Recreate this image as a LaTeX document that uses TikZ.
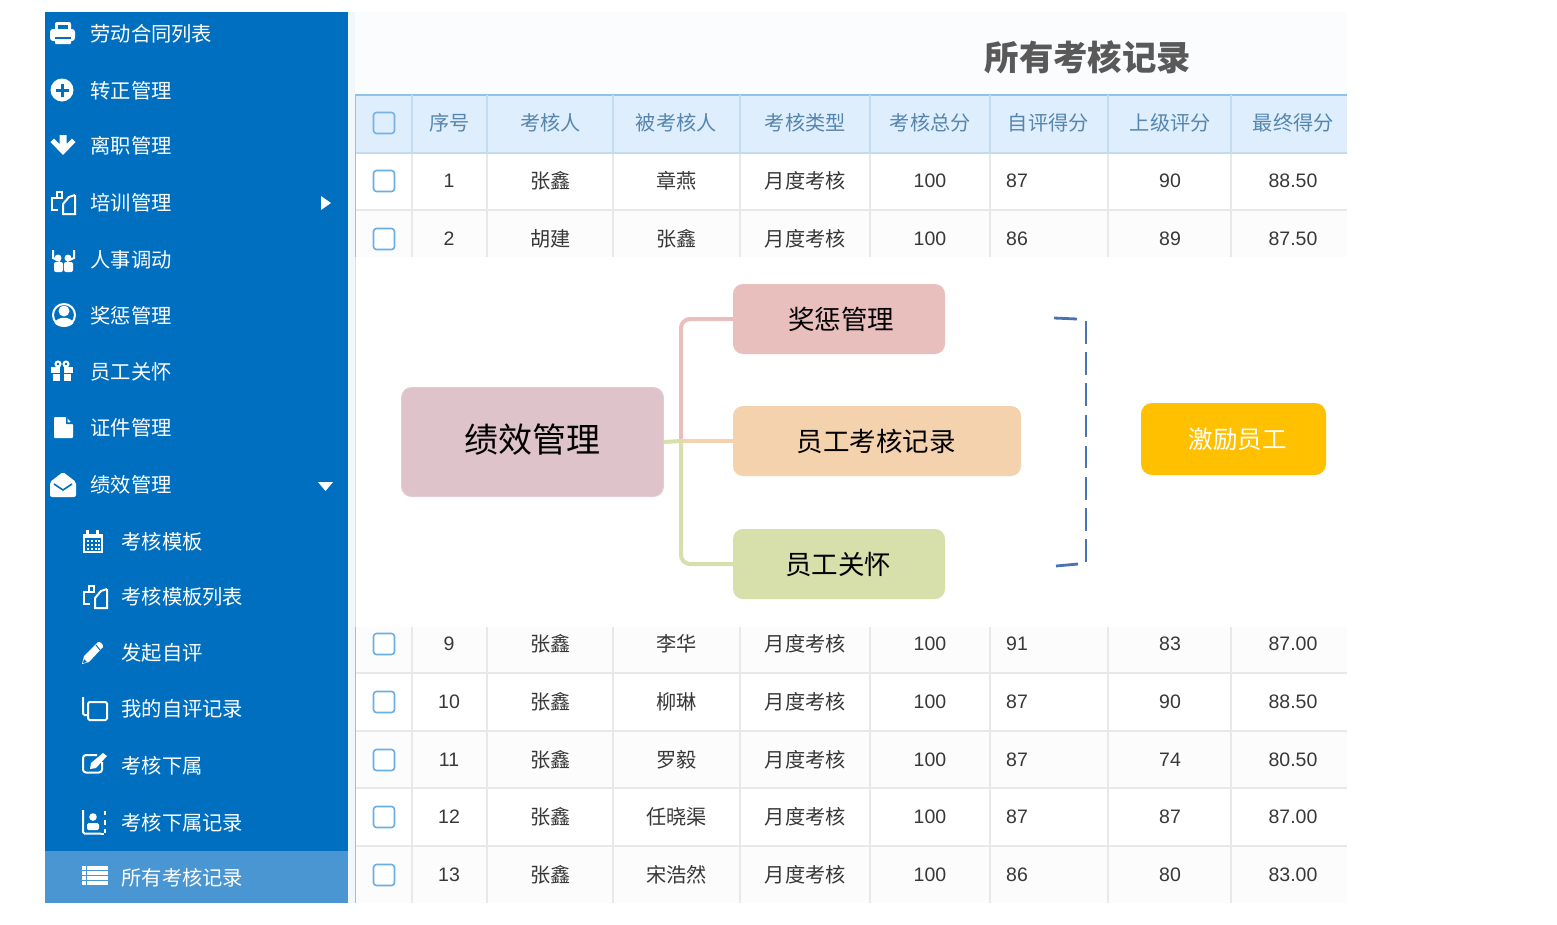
\documentclass[tikz,border=0pt]{standalone}
\usepackage{fontspec}
\setmainfont{Liberation Sans}
\newfontfamily\cjk{Noto Sans CJK SC}
\definecolor{side}{HTML}{006FC0}
\definecolor{sideact}{HTML}{4A96D2}
\definecolor{headbg}{HTML}{DEEEFC}
\definecolor{headline}{HTML}{C3DCF0}
\definecolor{topline}{HTML}{8FC3EA}
\definecolor{rowline}{HTML}{E8E8E8}
\definecolor{headtext}{HTML}{5685AE}
\definecolor{bodytext}{HTML}{383838}
\definecolor{chk}{HTML}{6AAEE6}
\definecolor{chkh}{HTML}{7AB0DD}
\definecolor{dashblue}{HTML}{4A72B0}
\definecolor{stripc}{HTML}{F2F7FC}
\definecolor{topc}{HTML}{FBFCFD}
\definecolor{midl}{HTML}{CFE3F4}
\definecolor{rowalt}{HTML}{FCFCFC}
\definecolor{titlec}{HTML}{595959}
\definecolor{rootc}{HTML}{DFC3CB}
\definecolor{rootd}{HTML}{E3CBD2}
\definecolor{pinkc}{HTML}{E8BFBD}
\definecolor{orangec}{HTML}{F4D2AE}
\definecolor{greenc}{HTML}{D7DFAA}
\definecolor{goldc}{HTML}{FFC000}
\tikzset{
  x=1pt,y=-1pt,
  menu/.style={anchor=west,inner sep=0,yshift=-0.4pt,xshift=0.2pt,text=white,font=\cjk\fontsize{20.3}{22}\selectfont},
  hcell/.style={inner sep=0,yshift=-0.2pt,xshift=0.3pt,text=headtext,font=\cjk\fontsize{20.2}{22}\selectfont},
  cell/.style={inner sep=0,yshift=-0.1pt,xshift=0.3pt,text=bodytext,font=\cjk\fontsize{20.2}{22}\selectfont},
  numcell/.style={inner sep=0,text=bodytext,font=\fontsize{19.5}{22}\selectfont},
  chkbox/.style={draw=chk,line width=1.6pt,rounded corners=3pt,fill=white,minimum size=21pt,inner sep=0},
  mapbox/.style={rounded corners=10pt,inner sep=0,text=black},
  branch/.style={line width=4pt},
  ic/.style={fill=white,draw=none},
  icl/.style={draw=white,line width=2pt,fill=none},
  bl/.style={fill=side,draw=none}
}
\newcommand{\trow}[8]{%
  \node[chkbox] (c#1) at (384,#2) {};
  \node[numcell] (n#1) at (449,#2) {#1};
  \node[cell] (a#1) at (550,#2) {#3};
  \node[cell] (b#1) at (676,#2) {#4};
  \node[cell] (t#1) at (805,#2) {月度考核};
  \node[numcell] (s#1) at (930,#2) {#5};
  \node[numcell,anchor=west] (e#1) at (1006,#2) {#6};
  \node[numcell] (u#1) at (1170,#2) {#7};
  \node[numcell] (f#1) at (1293,#2) {#8};
}
\newcommand{\copyicon}[2]{%
  \begin{scope}[shift={(#1,#2)}]
    \draw[icl] (12,-8) -- (12,11) -- (0,11) -- (0,1) -- (6,-6) -- (12,-8);
    \draw[icl] (0,-5) -- (-11,-5) -- (-11,7) -- (-5,7);
    \draw[icl] (-6,-5) -- (-6,-11) -- (-1,-11) -- (-1,-5);
  \end{scope}}
\begin{document}
\begin{tikzpicture}
\useasboundingbox (0,0) rectangle (1557,924);
\fill[white] (0,0) rectangle (1557,924);
% page strip and title zone
\fill[stripc] (347.5,12) rectangle (355,903);
\fill[topc] (355,12) rectangle (1347,95);
\node[inner sep=0,text=titlec,font=\cjk\bfseries\fontsize{34.4}{36}\selectfont] (title) at (1087.8,57.5) {所有考核记录};
% sidebar
\fill[side] (45,12) rectangle (347.5,851);
\fill[sideact] (45,851) rectangle (347.5,903);
\node[menu] (m1) at (90,33) {劳动合同列表};
\node[menu] (m2) at (90,90) {转正管理};
\node[menu] (m3) at (90,145) {离职管理};
\node[menu] (m4) at (90,202) {培训管理};
\node[menu] (m5) at (90,259) {人事调动};
\node[menu] (m6) at (90,315) {奖惩管理};
\node[menu] (m7) at (90,371) {员工关怀};
\node[menu] (m8) at (90,427) {证件管理};
\node[menu] (m9) at (90,484) {绩效管理};
\node[menu] (m10) at (121,541) {考核模板};
\node[menu] (m11) at (121,596) {考核模板列表};
\node[menu] (m12) at (121,652) {发起自评};
\node[menu] (m13) at (121,708) {我的自评记录};
\node[menu] (m14) at (121,765) {考核下属};
\node[menu] (m15) at (121,822) {考核下属记录};
\node[menu] (m16) at (121,877) {所有考核记录};
% arrows
\fill[white] (321,196) -- (331,203) -- (321,210) -- cycle;
\fill[white] (318,482) -- (333,482) -- (325.5,491) -- cycle;
% icons
\fill[ic,rounded corners=2pt] (55,22) rectangle (71,33);
\fill[bl] (58,25) rectangle (68,30);
\fill[ic,rounded corners=3pt] (50,29) rectangle (75,41);
\fill[ic,rounded corners=1pt] (55,38) rectangle (71,44);
\fill[bl] (55,36.5) rectangle (71,38.5);
\fill[ic] (62,90) circle (11.5);
\fill[bl] (60.5,83.5) rectangle (63.5,96.5);
\fill[bl] (55.5,88.5) rectangle (68.5,91.5);
\fill[ic] (59.5,135) -- (66.5,135) -- (66.5,144) -- (72,138.5) -- (75.5,142) -- (63,155) -- (50.5,142) -- (54,138.5) -- (59.5,144) -- cycle;
\copyicon{63}{203}
\draw[icl] (53,250) -- (53,258) -- (60,261);
\draw[icl] (74,250) -- (74,258) -- (67,261);
\fill[ic] (58,258) circle (3.5);
\fill[ic] (68,258) circle (3.5);
\fill[ic,rounded corners=2pt] (54,262) rectangle (63,272);
\fill[ic,rounded corners=2pt] (64,262) rectangle (73,272);
\draw[white,line width=2pt] (64,315) circle (11);
\fill[ic] (64,311) circle (5.5);
\fill[ic] (54.5,323) .. controls (57,316) and (71,316) .. (73.5,323) .. controls (70,328) and (58,328) .. (54.5,323) -- cycle;
\draw[white,line width=2pt] (58,364) circle (2.5);
\draw[white,line width=2pt] (66,364) circle (2.5);
\fill[ic] (51,367) rectangle (73,372.5);
\fill[ic] (53,374) rectangle (71,381);
\fill[bl] (60,367) rectangle (64,381);
\fill[ic,rounded corners=1pt] (54,417) -- (66,417) -- (73,424) -- (73,438) -- (54,438) -- cycle;
\fill[bl] (66,417) -- (66,424) -- (73,424) -- (72,422) -- (67.5,422.5) -- (67.5,418) -- cycle;
\fill[ic,rounded corners=2pt] (50,482) -- (63,472) -- (76,482) -- (76,497) -- (50,497) -- cycle;
\draw[side,line width=1.6pt] (54,484) -- (63,490) -- (72,484);
\fill[ic] (83,534) rectangle (103,553);
\fill[ic] (86,530) rectangle (89,536);
\fill[ic] (96,530) rectangle (99,536);
\fill[bl] (85,538) rectangle (101,551);
\foreach \xa in {86.5,90.5,94.5,98}{\foreach \ya in {539.5,543.5,547.5}{\fill[ic] (\xa,\ya) rectangle ++(2.4,2.4);}}
\copyicon{95}{597}
\fill[ic] (82,664) -- (84,656) -- (98,642) .. controls (100,641) and (104,645) .. (103,647) -- (89,662) -- cycle;
\draw[side,line width=1pt] (96,645) -- (100,650);
\fill[bl] (83,663) -- (84,659) -- (87,662) -- cycle;
\draw[icl,rounded corners=1.5pt] (83,697) -- (83,715) -- (87,715);
\draw[icl,rounded corners=1.5pt] (88,702) rectangle (107,720);
\draw[icl,rounded corners=3pt] (102,762) -- (102,772.5) -- (83,772.5) -- (83,755) -- (97,755);
\fill[ic] (90,769) -- (91,763) -- (103,753) -- (107,756) -- (96,768) -- cycle;
\draw[icl,rounded corners=1.5pt] (83,810) -- (83,833.5) -- (101,833.5);
\fill[ic] (93,817) circle (3.8);
\fill[ic,rounded corners=1.5pt] (87,830) -- (87,823) -- (99,823) -- (99,830) -- cycle;
\draw[white,line width=2pt] (104.5,811) -- (104.5,815);
\draw[white,line width=2pt] (104.5,820) -- (104.5,825);
\draw[white,line width=2pt] (104.5,829) -- (104.5,833);
\draw[white,line width=2pt] (101,833.5) -- (104,833.5);
\foreach \ya in {866,871,876,881}{\fill[ic] (82,\ya) rectangle (86,\ya+4); \fill[ic] (87,\ya) rectangle (108,\ya+4);}
% table header
\fill[headbg] (355,95) rectangle (1347,153);
\draw[topline,line width=1.5pt] (355,95) -- (1347,95);
\draw[headline,line width=1.1pt] (355,153) -- (1347,153);
\foreach \xa in {412,487,613,740,870,990,1108,1231}{\draw[headline,line width=1.1pt] (\xa,95) -- (\xa,153);}
% table rows grid
\fill[rowalt] (356,210) rectangle (1347,257);
\fill[rowalt] (356,627) rectangle (1347,673);
\fill[rowalt] (356,731) rectangle (1347,788);
\fill[rowalt] (356,846) rectangle (1347,903);
\foreach \ya in {210,673,731,788,846}{\draw[rowline,line width=1.2pt] (356,\ya) -- (1347,\ya);}
\foreach \xa in {412,487,613,740,870,990,1108,1231}{
  \draw[rowline,line width=1.2pt] (\xa,153.6) -- (\xa,257);
  \draw[rowline,line width=1.2pt] (\xa,627) -- (\xa,903);
}
\draw[topline,line width=1.6pt] (355.5,95) -- (355.5,257);
\draw[topline,line width=1.6pt] (355.5,627) -- (355.5,903);
\draw[midl,line width=1.2pt] (355.5,257) -- (355.5,627);
\node[chkbox,fill=headbg,draw=chkh] (ch) at (384,123) {};
\node[hcell] (h2) at (449,123) {序号};
\node[hcell] (h3) at (550,123) {考核人};
\node[hcell] (h4) at (676,123) {被考核人};
\node[hcell] (h5) at (805,123) {考核类型};
\node[hcell] (h6) at (930,123) {考核总分};
\node[hcell] (h7) at (1048,123) {自评得分};
\node[hcell] (h8) at (1170,123) {上级评分};
\node[hcell] (h9) at (1293,123) {最终得分};
\trow{1}{181}{张鑫}{章燕}{100}{87}{90}{88.50}
\trow{2}{239}{胡建}{张鑫}{100}{86}{89}{87.50}
\trow{9}{644}{张鑫}{李华}{100}{91}{83}{87.00}
\trow{10}{702}{张鑫}{柳琳}{100}{87}{90}{88.50}
\trow{11}{760}{张鑫}{罗毅}{100}{87}{74}{80.50}
\trow{12}{817}{张鑫}{任晓渠}{100}{87}{87}{87.00}
\trow{13}{875}{张鑫}{宋浩然}{100}{86}{80}{83.00}
% mind map
\coordinate (trunk) at (681,441);
\node[mapbox,fill=rootc,draw=rootd,line width=0.8pt,minimum width=262pt,minimum height=109pt,font=\cjk\fontsize{34}{36}\selectfont] (root) at (532.5,442) {\raisebox{8pt}{绩效管理}};
\node[mapbox,fill=pinkc,minimum width=212pt,minimum height=70pt,font=\cjk\fontsize{26.5}{28}\selectfont] (k1) at (839,319) {\raisebox{1pt}{\hspace{4pt}奖惩管理}};
\node[mapbox,fill=orangec,minimum width=288pt,minimum height=70pt,font=\cjk\fontsize{26.5}{28}\selectfont] (k2) at (877,441) {\raisebox{1pt}{\hspace{-2pt}员工考核记录}};
\node[mapbox,fill=greenc,minimum width=212pt,minimum height=70pt,font=\cjk\fontsize{26.5}{28}\selectfont] (k3) at (839,564) {\hspace{-2pt}员工关怀};
\node[mapbox,rounded corners=11pt,fill=goldc,text=white,minimum width=185pt,minimum height=72pt,font=\cjk\fontsize{24.5}{26}\selectfont] (goal) at (1233.5,439) {\raisebox{-1.5pt}{\hspace{8pt}激励员工}};
\draw[branch,draw=pinkc,rounded corners=9pt] (k1.west) -| (trunk);
\draw[branch,draw=orangec] (trunk) -- (k2.west);
\draw[branch,draw=greenc,rounded corners=9pt] (k3.west) -| (trunk);
\draw[branch,draw=greenc] (root.east) -- (trunk);
% bracket
\coordinate (bt1) at (1054,318);
\coordinate (bt2) at (1077,319);
\coordinate (bv1) at (1086,321);
\coordinate (bv2) at (1086,562);
\coordinate (bb1) at (1056,566);
\coordinate (bb2) at (1078,564);
\draw[dashblue,line width=2.8pt] (bt1) -- (bt2);
\draw[dashblue,line width=2.8pt,dash pattern=on 22.5pt off 8.7pt] (bv1) -- (bv2);
\draw[dashblue,line width=2.8pt] (bb1) -- (bb2);
\end{tikzpicture}
\end{document}
